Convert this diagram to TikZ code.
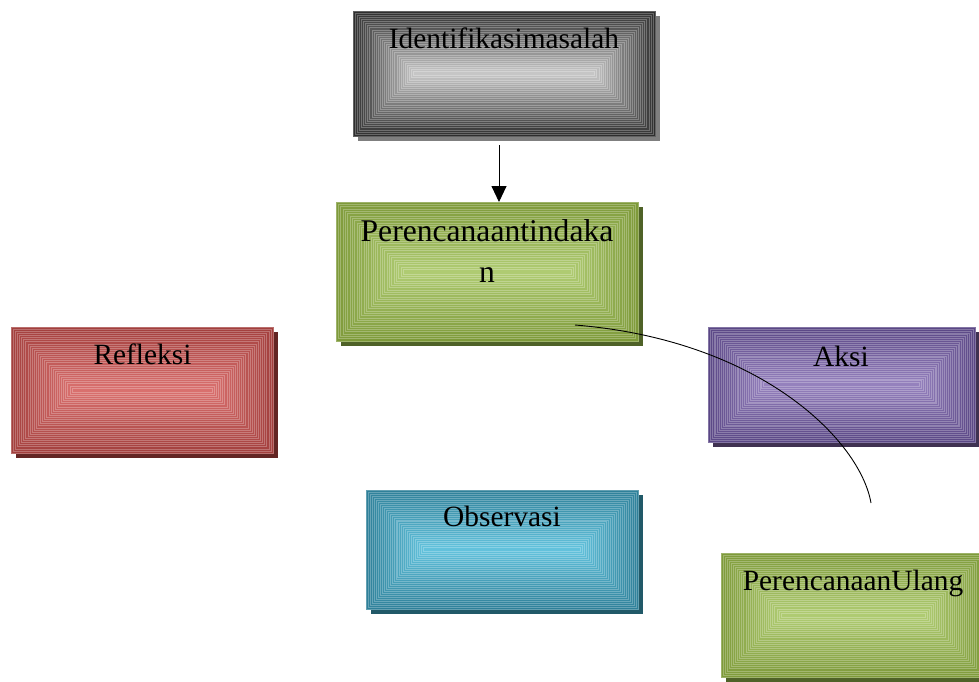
\documentclass[tikz,border=0pt]{standalone}
\usepackage{fontspec}
\setmainfont{Liberation Serif}
\usetikzlibrary{arrows.meta,calc}
\definecolor{gOut}{HTML}{2E2E2E}
\definecolor{gIn}{HTML}{C6C6C6}
\definecolor{gSh}{HTML}{7F7F7F}
\definecolor{lOut}{HTML}{7E9A3A}
\definecolor{lIn}{HTML}{AFCB72}
\definecolor{lSh}{HTML}{4F6228}
\definecolor{rOut}{HTML}{A23F3D}
\definecolor{rIn}{HTML}{D9706E}
\definecolor{rSh}{HTML}{632523}
\definecolor{pOut}{HTML}{5A4785}
\definecolor{pIn}{HTML}{9581BD}
\definecolor{pSh}{HTML}{3F3151}
\definecolor{tOut}{HTML}{2F8099}
\definecolor{tIn}{HTML}{63C2DC}
\definecolor{tSh}{HTML}{215968}
% x1 y1 x2 y2 outer inner shadow
\newcommand{\gradbox}[7]{%
  \fill[#7] (#1+4.5,#2+4.5) rectangle (#3+4.5,#4+4.5);
  \pgfmathsetmacro{\ghh}{(#4-#2)/2}
  \foreach \gi in {0,...,29}{
    \pgfmathsetmacro{\gdd}{\ghh*\gi/30}
    \pgfmathtruncatemacro{\gpct}{100-\gi*100/29}
    \fill[#5!\gpct!#6, draw=#5!\gpct!#6!75!white, line width=0.5pt]
      (#1+\gdd,#2+\gdd) rectangle (#3-\gdd,#4-\gdd);
  }
}
\tikzset{
  boxnode/.style={draw=none, inner sep=0pt, outer sep=0pt},
  lbl/.style={inner sep=0pt, font=\fontsize{29.4}{41}\selectfont, text=black},
  biglbl/.style={inner sep=0pt, font=\fontsize{31.6}{41}\selectfont, text=black},
  conn/.style={line width=0.9pt, black},
  arrowconn/.style={conn, -{Triangle[length=16pt,width=15pt]}}
}
\begin{document}
\begin{tikzpicture}[x=1pt,y=-1pt]
\useasboundingbox (0,0) rectangle (979,681);
% gradient fills
\gradbox{353}{11}{655}{136}{gOut}{gIn}{gSh}
\gradbox{336}{202}{638}{341}{lOut}{lIn}{lSh}
\gradbox{11}{327}{273}{453}{rOut}{rIn}{rSh}
\gradbox{708}{327}{975}{442}{pOut}{pIn}{pSh}
\gradbox{366}{490}{638}{609}{tOut}{tIn}{tSh}
\gradbox{721}{553}{985}{677}{lOut}{lIn}{lSh}
% box nodes
\node[boxnode, minimum width=302pt, minimum height=125pt] (ident) at (504,73.5) {};
\node[boxnode, minimum width=302pt, minimum height=139pt] (plan) at (487,271.5) {};
\node[boxnode, minimum width=262pt, minimum height=126pt] (refl) at (142,390) {};
\node[boxnode, minimum width=267pt, minimum height=115pt] (aksi) at (841.5,384.5) {};
\node[boxnode, minimum width=272pt, minimum height=119pt] (obs) at (502,549.5) {};
\node[boxnode, minimum width=264pt, minimum height=124pt] (ulang) at (853,615) {};
% labels
\node[lbl, anchor=base] (identtxt) at (504,48) {Identifikasimasalah};
\node[biglbl, anchor=base, align=center] (plantxt) at (487,282) {Perencanaantindaka\\n};
\node[lbl, anchor=base] (refltxt) at (142.5,364) {Refleksi};
\node[lbl, anchor=base] (aksitxt) at (841,366) {Aksi};
\node[lbl, anchor=base] (obstxt) at (502,526) {Observasi};
\node[lbl, anchor=base] (ulangtxt) at (853,590) {PerencanaanUlang};
% connectors
\coordinate (arrx) at (499,0);
\draw[arrowconn, shorten <=9pt] (ident.south -| arrx) -- (plan.north -| arrx);
\coordinate (cstart) at (575,325);
\coordinate (cend) at (871,503);
\draw[conn] (cstart) .. controls (760,340) and (860,440) .. (cend);
\end{tikzpicture}
\end{document}
